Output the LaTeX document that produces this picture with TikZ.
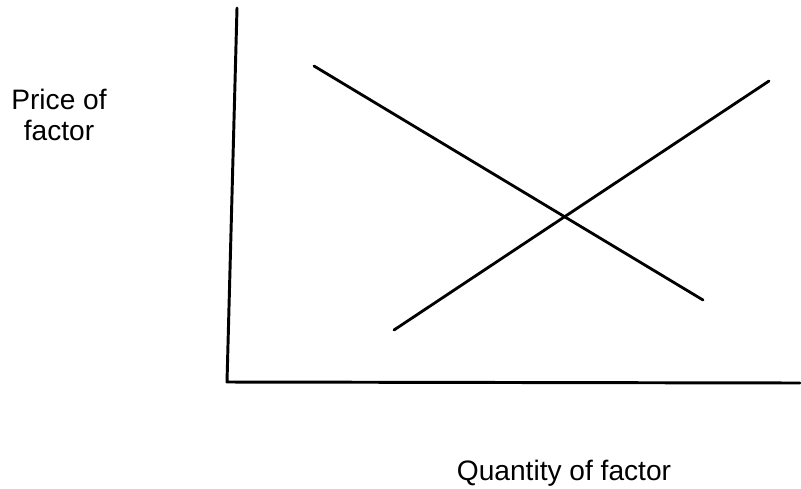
\documentclass[tikz,border=0pt]{standalone}
\usepackage{fontspec}
\setmainfont{Liberation Sans}
\usetikzlibrary{positioning}
\tikzset{
  axisln/.style={line width=2.1pt,line cap=round,line join=round},
  curveln/.style={line width=2pt,line cap=round},
  lbl/.style={font=\fontsize{20}{21.5}\selectfont,align=center,inner sep=0pt}
}
\begin{document}
\begin{tikzpicture}[x=0.025cm,y=-0.025cm]
  \useasboundingbox (0,0) rectangle (801,488);
  % Axes
  \coordinate (ytop) at (237,8);
  \coordinate (orig) at (227,382);
  \coordinate (xend) at (800,383);
  \draw[axisln] (ytop) -- (orig) -- (xend);

  % Demand curve
  \coordinate (d1) at (314,66);
  \coordinate (d2) at (703,300);
  \draw[curveln] (d1) -- (d2);

  % Supply curve
  \coordinate (s1) at (394,330);
  \coordinate (s2) at (769,81);
  \draw[curveln] (s1) -- (s2);

  % Axis labels
  \node[lbl,anchor=base] (yl) at (59,140) {Price of\\factor};
  \node[lbl,anchor=base] (xl) at (564,480) {Quantity of factor};
\end{tikzpicture}
\end{document}
